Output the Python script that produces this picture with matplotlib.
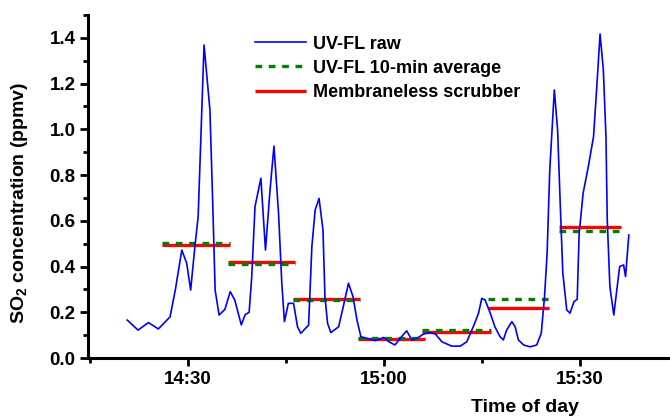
import matplotlib
matplotlib.use("Agg")
import matplotlib.pyplot as plt
from matplotlib.ticker import MultipleLocator, FormatStrFormatter

plt.rcParams['font.family'] = ['Liberation Sans', 'DejaVu Sans']
plt.rcParams['mathtext.fontset'] = 'custom'
plt.rcParams['mathtext.rm'] = 'Liberation Sans:bold'
plt.rcParams['mathtext.bf'] = 'Liberation Sans:bold'

# time in minutes after 14:00
raw_t = [20.75, 22.4, 24.0, 25.5, 27.3, 28.1, 29.1, 29.85, 30.45, 31.1, 31.6, 32.5,
         33.4, 33.8, 34.2, 34.8, 35.7, 36.5, 37.2, 38.2, 38.8, 39.4, 39.8, 40.3,
         41.2, 41.9, 42.6, 43.2, 43.9, 44.4, 44.8, 45.4, 46.2, 46.8, 47.3, 48.5,
         49.0, 49.5, 50.1, 50.7, 51.0, 51.4, 51.9, 53.1, 53.8, 54.6, 55.3, 55.9,
         56.5, 57.4, 58.7, 60.0, 60.8, 61.7, 62.8, 63.5, 64.3, 65.3, 66.1, 67.1,
         67.9, 68.9, 70.4, 71.7, 72.7, 73.7, 74.5, 75.0, 75.5, 76.3, 77.0, 77.8,
         78.3, 78.8, 79.6, 80.1, 80.6, 81.4, 82.4, 83.4, 84.1, 84.6, 85.0, 85.4,
         86.1, 86.6, 87.0, 87.4, 88.0, 88.5, 89.1, 89.6, 89.9, 90.5, 91.3, 92.1,
         92.6, 93.1, 93.6, 94.0, 94.2, 94.6, 95.2, 95.6, 96.1, 96.7, 97.0, 97.2, 97.5]
raw_so2 = [0.166, 0.122, 0.155, 0.127, 0.18, 0.297, 0.472, 0.414, 0.297, 0.487, 0.618, 1.369,
           1.085, 0.706, 0.297, 0.188, 0.213, 0.29, 0.254, 0.145, 0.19, 0.2, 0.356, 0.662,
           0.786, 0.472, 0.735, 0.927, 0.633, 0.327, 0.159, 0.239, 0.239, 0.137, 0.108, 0.144,
           0.487, 0.647, 0.698, 0.56, 0.268, 0.152, 0.111, 0.137, 0.224, 0.327, 0.268, 0.166,
           0.093, 0.086, 0.076, 0.090, 0.071, 0.057, 0.096, 0.119, 0.079, 0.09, 0.105, 0.111,
           0.105, 0.071, 0.052, 0.052, 0.071, 0.137, 0.196, 0.261, 0.254, 0.196, 0.137, 0.093,
           0.079, 0.122, 0.159, 0.137, 0.079, 0.057, 0.049, 0.057, 0.108, 0.268, 0.46, 0.822,
           1.172, 0.997, 0.677, 0.371, 0.21, 0.196, 0.246, 0.257, 0.545, 0.72, 0.837, 0.968,
           1.187, 1.417, 1.26, 0.968, 0.604, 0.312, 0.188, 0.283, 0.4, 0.407, 0.356, 0.429, 0.538]

seg_start = [26.0, 36.1, 46.1, 56.0, 65.9, 75.9, 86.8]
seg_end = [36.5, 46.4, 56.4, 66.3, 76.4, 85.3, 96.3]
avg10 = [0.505, 0.41, 0.255, 0.088, 0.122, 0.257, 0.557]
scrubber = [0.495, 0.419, 0.258, 0.083, 0.112, 0.22, 0.574]

xtick_pos = [30, 60, 90]
xtick_labels = ["14:30", "15:00", "15:30"]

fig = plt.figure(figsize=(6.7, 4.18), dpi=100)
ax = fig.add_axes([0.1313, 0.1435, 0.8687, 0.8206])

ax.plot(raw_t, raw_so2, color='blue', lw=1.2, zorder=4, label='UV-FL raw')
for i in range(len(seg_start)):
    ax.plot([seg_start[i], seg_end[i]], [scrubber[i], scrubber[i]], color='red',
            lw=2.4, solid_capstyle='butt', zorder=2,
            label='Membraneless scrubber' if i == 0 else None)
    ax.plot([seg_start[i], seg_end[i]], [avg10[i], avg10[i]], color='#008000',
            lw=2.4, dashes=(2.0, 2.0), zorder=3,
            label='UV-FL 10-min average' if i == 0 else None)

ax.set_xlim(14.74, 103.8)
ax.set_ylim(0, 1.5)

ax.set_xticks(xtick_pos)
ax.set_xticklabels(xtick_labels)
ax.xaxis.set_minor_locator(MultipleLocator(15))
ax.yaxis.set_major_locator(MultipleLocator(0.2))
ax.yaxis.set_minor_locator(MultipleLocator(0.1))
ax.yaxis.set_major_formatter(FormatStrFormatter('%.1f'))

for s in ['top', 'right']:
    ax.spines[s].set_visible(False)
for s in ['left', 'bottom']:
    ax.spines[s].set_linewidth(2.2)

ax.tick_params(which='major', direction='out', length=6, width=2, labelsize=13.5, pad=3)
ax.tick_params(which='minor', direction='out', length=3.5, width=2)
for lab in ax.get_xticklabels() + ax.get_yticklabels():
    lab.set_fontweight('bold')

ax.set_ylabel(r'SO$_{\mathbf{2}}$ concentration (ppmv)', fontsize=14, fontweight='bold')
ax.yaxis.set_label_coords(-0.10, 0.452)
ax.set_xlabel('Time of day', fontsize=14, fontweight='bold')
ax.xaxis.set_label_coords(0.751, -0.12)

h, l = ax.get_legend_handles_labels()
order = [l.index('UV-FL raw'), l.index('UV-FL 10-min average'), l.index('Membraneless scrubber')]
ax.legend([h[k] for k in order], [l[k] for k in order], loc='upper left',
          bbox_to_anchor=(0.287, 0.94), frameon=False, borderpad=0, borderaxespad=0,
          handlelength=2.8, handletextpad=0.4, labelspacing=0.4,
          prop={'size': 13, 'weight': 'bold'})

fig.savefig('out.png', dpi=100)
